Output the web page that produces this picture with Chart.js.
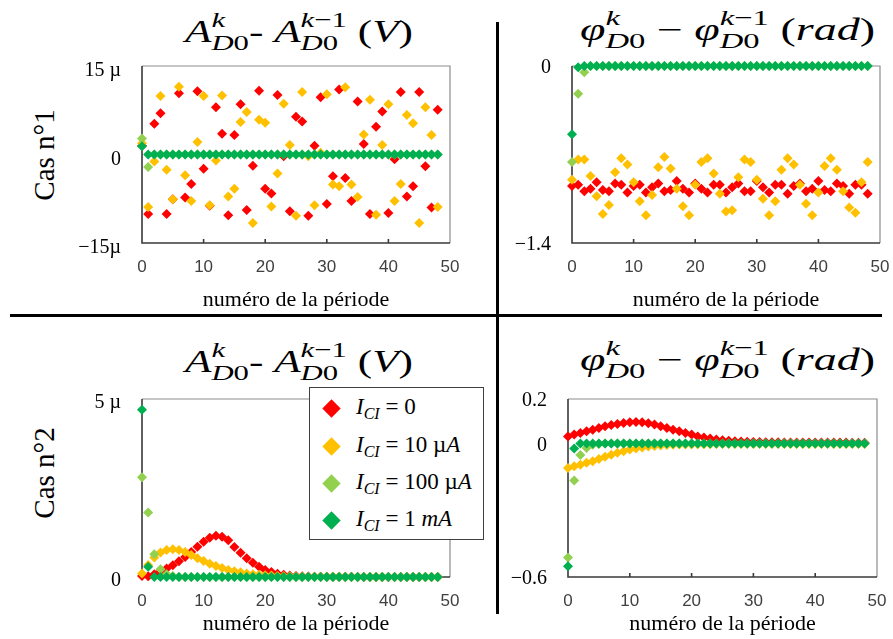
<!DOCTYPE html>
<html>
<head>
<meta charset="utf-8">
<script src="https://cdn.jsdelivr.net/npm/chart.js@4.4.0/dist/chart.umd.min.js"></script>
<style>
  html, body { margin: 0; padding: 0; background: #fff; }
  body { width: 893px; height: 639px; position: relative; overflow: hidden; font-family: 'Liberation Serif', serif; color: #000; }
  canvas { position: absolute; }
  .ttl { position: absolute; font-size: 31px; line-height: 30px; white-space: nowrap; transform-origin: 0 0; }
  .st { display: inline-block; vertical-align: -8px; font-size: 22px; line-height: 23px; }
  .st span { display: block; }
  .cas { position: absolute; font-size: 29px; white-space: nowrap; transform: translate(-50%, -50%) rotate(-90deg); }
  .rule { position: absolute; background: #000; }
  .legend { position: absolute; left: 309px; top: 387px; width: 175px; height: 153px; box-sizing: border-box;
            border: 1.5px solid #404040; background: #fff; z-index: 5; }
  .row { position: absolute; left: 0; height: 30px; line-height: 30px; width: 100%; }
  .mk { position: absolute; left: 15px; top: 10px; width: 13px; height: 13px; transform: rotate(45deg); }
  .lt { position: absolute; left: 46px; font-size: 23px; white-space: nowrap; }
  .lt sub { font-size: 16px; vertical-align: -5px; line-height: 0; }
</style>
</head>
<body>
<div class="rule" style="left:10px;top:314px;width:872px;height:3px"></div>
<div class="rule" style="left:496px;top:22px;width:3px;height:592px"></div>

<div class="cas" style="left:44px;top:155px">Cas n°1</div>
<div class="cas" style="left:44px;top:473px">Cas n°2</div>

<div class="ttl" data-w="228" style="left:185px;top:8px"><i>A</i><span class="st"><span><i>k</i></span><span><i>D</i>0</span></span>- <i>A</i><span class="st"><span><i>k</i>−1</span><span><i>D</i>0</span></span> (<i>V</i>)</div>
<div class="ttl" data-w="295" style="left:580px;top:6px"><i>φ</i><span class="st"><span><i>k</i></span><span><i>D</i>0</span></span> − <i>φ</i><span class="st"><span><i>k</i>−1</span><span><i>D</i>0</span></span> (<i>rad</i>)</div>
<div class="ttl" data-w="228" style="left:185px;top:338px"><i>A</i><span class="st"><span><i>k</i></span><span><i>D</i>0</span></span>- <i>A</i><span class="st"><span><i>k</i>−1</span><span><i>D</i>0</span></span> (<i>V</i>)</div>
<div class="ttl" data-w="295" style="left:580px;top:336px"><i>φ</i><span class="st"><span><i>k</i></span><span><i>D</i>0</span></span> − <i>φ</i><span class="st"><span><i>k</i>−1</span><span><i>D</i>0</span></span> (<i>rad</i>)</div>

<canvas id="tl"></canvas>
<canvas id="tr"></canvas>
<canvas id="bl"></canvas>
<canvas id="br"></canvas>

<div class="legend" id="legend"></div>

<script>
// x values: period number
const periods = [0, 1, 2, 3, 4, 5, 6, 7, 8, 9, 10, 11, 12, 13, 14, 15, 16, 17, 18, 19, 20, 21, 22, 23, 24,
  25, 26, 27, 28, 29, 30, 31, 32, 33, 34, 35, 36, 37, 38, 39, 40, 41, 42, 43, 44, 45, 46, 47, 48]

const seriesNames = ['I_CI = 0', 'I_CI = 10 µA', 'I_CI = 100 µA', 'I_CI = 1 mA']
const seriesColors = ['#FF0000', '#FFC000', '#92D050', '#00B050']

// Cas n°1, amplitude difference (µV)
const tlRed = [1.5, -10.1, 5.2, 7.0, -10.1, -7.6, 10.4, -7.3, -5.0, 10.7, -2.4, -8.7, 8.0, 3.5, -10.3, 3.3, 8.5, -9.4, -1.9, 10.8,
  -5.8, -6.6, 10.1, -0.3, -9.6, 6.4, 5.6, -10.4, 1.5, 9.7, -8.4, -3.7, 11.0, -4.0, -7.9, 9.0, 1.8, -10.1, 4.7, 7.3,
  -9.9, -0.8, 10.6, -7.1, -5.4, 10.6, -2.0, -9.0, 7.6]
const tlYellow = [1.9, -8.9, -1.2, 9.9, -2.6, -7.6, 11.5, -3.5, -7.9, 2.1, 9.9, -8.6, -1.0, 10.0, -7.1, -5.8, 5.5, 7.2, -11.6, 5.9,
  5.4, -8.8, -3.2, 8.6, 1.6, -10.4, 10.6, -0.3, -8.6, 0.3, 10.2, -5.1, -5.4, 11.4, -5.1, -7.2, 3.4, 9.3, -10.2, 1.6,
  8.5, -7.9, -5.0, 6.7, 5.3, -11.6, 8.0, 3.3, -8.9]
const tlLight = [2.7, -2.1, 0, 0, 0, 0, 0, 0, 0, 0, 0, 0, 0, 0, 0, 0, 0, 0, 0, 0, 0, 0, 0, 0, 0,
  0, 0, 0, 0, 0, 0, 0, 0, 0, 0, 0, 0, 0, 0, 0, 0, 0, 0, 0, 0, 0, 0, 0, 0]
const tlGreen = [1.4, 0, 0, 0, 0, 0, 0, 0, 0, 0, 0, 0, 0, 0, 0, 0, 0, 0, 0, 0, 0, 0, 0, 0, 0,
  0, 0, 0, 0, 0, 0, 0, 0, 0, 0, 0, 0, 0, 0, 0, 0, 0, 0, 0, 0, 0, 0, 0, 0]

// Cas n°1, phase difference (rad)
const trRed = [-0.95, -0.94, -0.99, -0.97, -0.92, -0.98, -0.99, -0.93, -0.94, -1.00, -0.95, -0.94, -1.00, -0.96, -0.93, -0.99, -0.98,
  -0.91, -0.97, -1.00, -0.93, -0.97, -1.00, -0.94, -0.94, -1.00, -0.96, -0.93, -0.99, -0.99, -0.91, -0.96, -1.00, -0.94,
  -0.94, -1.01, -0.95, -0.93, -0.99, -0.97, -0.91, -0.98, -0.99, -0.93, -0.95, -1.01, -0.94, -0.94, -1.01]
const trYellow = [-0.90, -0.74, -0.74, -0.87, -1.03, -1.17, -1.10, -0.84, -0.73, -0.78, -0.92, -1.07, -1.18, -1.02, -0.80, -0.72,
  -0.81, -0.97, -1.11, -1.18, -0.94, -0.76, -0.73, -0.85, -1.01, -1.15, -1.14, -0.88, -0.74, -0.76, -0.90, -1.05, -1.18,
  -1.07, -0.82, -0.73, -0.78, -0.94, -1.09, -1.18, -1.00, -0.79, -0.73, -0.82, -0.99, -1.12, -1.16, -0.92, -0.76]
const trLight = [-0.76, -0.22, -0.05, 0, 0, 0, 0, 0, 0, 0, 0, 0, 0, 0, 0, 0, 0, 0, 0, 0, 0, 0, 0, 0, 0,
  0, 0, 0, 0, 0, 0, 0, 0, 0, 0, 0, 0, 0, 0, 0, 0, 0, 0, 0, 0, 0, 0, 0, 0]
const trGreen = [-0.54, -0.01, 0, 0, 0, 0, 0, 0, 0, 0, 0, 0, 0, 0, 0, 0, 0, 0, 0, 0, 0, 0, 0, 0, 0,
  0, 0, 0, 0, 0, 0, 0, 0, 0, 0, 0, 0, 0, 0, 0, 0, 0, 0, 0, 0, 0, 0, 0, 0]

// Cas n°2, amplitude difference (µV)
const blRed = [0.03, 0.02, 0.08, 0.16, 0.24, 0.33, 0.44, 0.56, 0.70, 0.85, 0.99, 1.10, 1.16, 1.13, 1.03, 0.84, 0.68, 0.53, 0.40, 0.29,
  0.20, 0.14, 0.09, 0.06, 0.04, 0.03, 0.02, 0.015, 0.01, 0.01, 0.01, 0.005, 0.005, 0.005, 0.005, 0, 0, 0, 0, 0,
  0, 0, 0, 0, 0, 0, 0, 0, 0]
const blYellow = [0.10, 0.34, 0.55, 0.69, 0.76, 0.78, 0.76, 0.70, 0.62, 0.53, 0.45, 0.37, 0.31, 0.25, 0.20, 0.16, 0.13, 0.10, 0.08, 0.06,
  0.05, 0.04, 0.03, 0.02, 0.02, 0.01, 0.01, 0.01, 0.01, 0.005, 0.005, 0.005, 0.005, 0, 0, 0, 0, 0, 0, 0,
  0, 0, 0, 0, 0, 0, 0, 0, 0]
const blLight = [2.8, 1.81, 0.64, 0.22, 0.08, 0.03, 0, 0, 0, 0, 0, 0, 0, 0, 0, 0, 0, 0, 0, 0, 0, 0, 0, 0, 0,
  0, 0, 0, 0, 0, 0, 0, 0, 0, 0, 0, 0, 0, 0, 0, 0, 0, 0, 0, 0, 0, 0, 0, 0]
const blGreen = [4.7, 0.29, 0, 0, 0, 0, 0, 0, 0, 0, 0, 0, 0, 0, 0, 0, 0, 0, 0, 0, 0, 0, 0, 0, 0,
  0, 0, 0, 0, 0, 0, 0, 0, 0, 0, 0, 0, 0, 0, 0, 0, 0, 0, 0, 0, 0, 0, 0, 0]

// Cas n°2, phase difference (rad)
const brRed = [0.032, 0.040, 0.047, 0.055, 0.062, 0.070, 0.077, 0.083, 0.088, 0.092, 0.095, 0.097, 0.095, 0.091, 0.085, 0.077, 0.070,
  0.062, 0.055, 0.047, 0.040, 0.032, 0.027, 0.022, 0.018, 0.015, 0.012, 0.010, 0.009, 0.008, 0.007, 0.007, 0.006, 0.006,
  0.006, 0.005, 0.005, 0.005, 0.005, 0.005, 0.004, 0.004, 0.004, 0.004, 0.004, 0.004, 0.003, 0.003, 0.003]
const brYellow = [-0.110, -0.102, -0.095, -0.087, -0.080, -0.070, -0.060, -0.050, -0.042, -0.035, -0.027, -0.022, -0.018, -0.014,
  -0.011, -0.009, -0.007, -0.006, -0.005, -0.004, -0.004, -0.003, -0.003, -0.003, -0.002, -0.002, -0.002, -0.002, -0.002,
  -0.002, -0.002, -0.002, -0.002, -0.002, -0.002, -0.002, -0.002, -0.002, -0.002, -0.002, -0.002, -0.002, -0.002, -0.002,
  -0.002, -0.002, -0.002, -0.002, -0.002]
const brLight = [-0.512, -0.166, -0.052, -0.020, -0.006, -0.002, 0, 0, 0, 0, 0, 0, 0, 0, 0, 0, 0, 0, 0, 0, 0, 0, 0, 0, 0,
  0, 0, 0, 0, 0, 0, 0, 0, 0, 0, 0, 0, 0, 0, 0, 0, 0, 0, 0, 0, 0, 0, 0, 0]
const brGreen = [-0.552, -0.022, 0, 0, 0, 0, 0, 0, 0, 0, 0, 0, 0, 0, 0, 0, 0, 0, 0, 0, 0, 0, 0, 0, 0,
  0, 0, 0, 0, 0, 0, 0, 0, 0, 0, 0, 0, 0, 0, 0, 0, 0, 0, 0, 0, 0, 0, 0, 0]

// y tick values and their labels
const tlTicks = [-15, 0, 15]
const tlTickText = ['−15µ', '0', '15 µ']
const trTicks = [-1.4, 0]
const trTickText = ['−1.4', '0']
const blTicks = [0, 5]
const blTickText = ['0', '5 µ']
const brTicks = [-0.6, 0, 0.2]
const brTickText = ['−0.6', '0', '0.2']

const xTicks = [0, 10, 20, 30, 40, 50]
const xTitle = 'numéro de la période'

// frame: grey top/right, dark left/bottom, small inside ticks
const framePlugin = {
  id: 'frame',
  beforeDatasetsDraw(chart) {
    const { ctx, chartArea: a, scales: { x } } = chart
    ctx.save()
    ctx.strokeStyle = '#8c8c8c'
    ctx.lineWidth = 1.2
    ctx.beginPath()
    ctx.moveTo(a.left, a.top)
    ctx.lineTo(a.right, a.top)
    ctx.lineTo(a.right, a.bottom)
    ctx.stroke()
    ctx.strokeStyle = '#3a3a3a'
    ctx.lineWidth = 1.6
    ctx.beginPath()
    ctx.moveTo(a.left, a.top)
    ctx.lineTo(a.left, a.bottom)
    ctx.lineTo(a.right, a.bottom)
    x.ticks.slice(1, -1).forEach(t => {
      const px = x.getPixelForValue(t.value)
      ctx.moveTo(px, a.bottom)
      ctx.lineTo(px, a.bottom - 4)
    })
    ctx.stroke()
    ctx.restore()
  }
}

function makeChart(id, box, values, yMin, yMax, tickVals, tickText, labelShift, titleGap) {
  const Y_W = 80, PAD_T = 14, PAD_R = 18
  const X_H = Math.round(titleGap + 15.2)
  const cv = document.getElementById(id)
  cv.width = box.w + Y_W + PAD_R
  cv.height = box.h + PAD_T + X_H

  const datasets = values.map((arr, k) => ({
    label: seriesNames[k],
    data: periods.map((p, i) => ({ x: p, y: arr[i] })),
    backgroundColor: seriesColors[k],
    borderWidth: 0,
    pointStyle: 'rectRot',
    pointRadius: 5,
    pointHoverRadius: 5,
    order: 3 - k,
    clip: false
  }))

  const chart = new Chart(cv, {
    type: 'scatter',
    data: { datasets },
    options: {
      responsive: false,
      maintainAspectRatio: false,
      animation: false,
      layout: { padding: { top: PAD_T, right: PAD_R, left: 0, bottom: 0 } },
      plugins: { legend: { display: false }, tooltip: { enabled: false } },
      scales: {
        x: {
          type: 'linear',
          min: 0,
          max: 50,
          afterBuildTicks: s => { s.ticks = xTicks.map(v => ({ value: v })) },
          afterFit: s => { s.height = X_H },
          grid: { display: false },
          border: { display: false },
          ticks: {
            padding: 6,
            color: '#404040',
            font: { family: 'Liberation Sans', size: 17 }
          },
          title: {
            display: true,
            text: xTitle,
            color: '#000',
            font: { family: 'Liberation Serif', size: 22 },
            padding: { top: 0, bottom: 2 }
          }
        },
        y: {
          min: yMin,
          max: yMax,
          afterBuildTicks: s => { s.ticks = tickVals.map(v => ({ value: v })) },
          afterFit: s => { s.width = Y_W },
          grid: { display: false },
          border: { display: false },
          ticks: {
            padding: 13,
            labelOffset: labelShift,
            color: '#000',
            font: { family: 'Liberation Serif', size: 20 },
            callback: v => tickText[tickVals.indexOf(v)]
          }
        }
      }
    },
    plugins: [framePlugin]
  })

  // make the plot area exactly the wanted box, then put it in place
  let a = chart.chartArea
  const dw = Math.round(box.w - (a.right - a.left))
  const dh = Math.round(box.h - (a.bottom - a.top))
  if (dw || dh) chart.resize(cv.width + dw, cv.height + dh)
  a = chart.chartArea
  cv.style.left = (box.l - a.left) + 'px'
  cv.style.top = (box.t - a.top) + 'px'
  return chart
}

makeChart('tl', { l: 142, t: 66, w: 308, h: 177 }, [tlRed, tlYellow, tlLight, tlGreen], -15, 15, tlTicks, tlTickText, 5, 57)
makeChart('tr', { l: 572, t: 66, w: 308, h: 177 }, [trRed, trYellow, trLight, trGreen], -1.4, 0, trTicks, trTickText, 2, 57)
makeChart('bl', { l: 142, t: 399, w: 308, h: 178 }, [blRed, blYellow, blLight, blGreen], 0, 5, blTicks, blTickText, 4, 47)
makeChart('br', { l: 568, t: 399, w: 309, h: 178 }, [brRed, brYellow, brLight, brGreen], -0.6, 0.2, brTicks, brTickText, 2, 47)

// legend (HTML, with subscripts)
const legendHtml = [
  '<i>I</i><sub><i>CI</i></sub> = 0',
  '<i>I</i><sub><i>CI</i></sub> = 10 µ<i>A</i>',
  '<i>I</i><sub><i>CI</i></sub> = 100 µ<i>A</i>',
  '<i>I</i><sub><i>CI</i></sub> = 1 <i>mA</i>'
]
const legendRows = [21, 58.5, 96, 133]
const lg = document.getElementById('legend')
legendHtml.forEach((h, k) => {
  const row = document.createElement('div')
  row.className = 'row'
  row.style.top = (legendRows[k] - 17) + 'px'
  row.innerHTML = '<span class="mk" style="background:' + seriesColors[k] + '"></span><span class="lt">' + h + '</span>'
  lg.appendChild(row)
})

// stretch titles to the reference width
document.querySelectorAll('.ttl').forEach(el => {
  const w = el.getBoundingClientRect().width
  el.style.transform = 'scaleX(' + (Number(el.dataset.w) / w) + ')'
})
</script>
</body>
</html>
